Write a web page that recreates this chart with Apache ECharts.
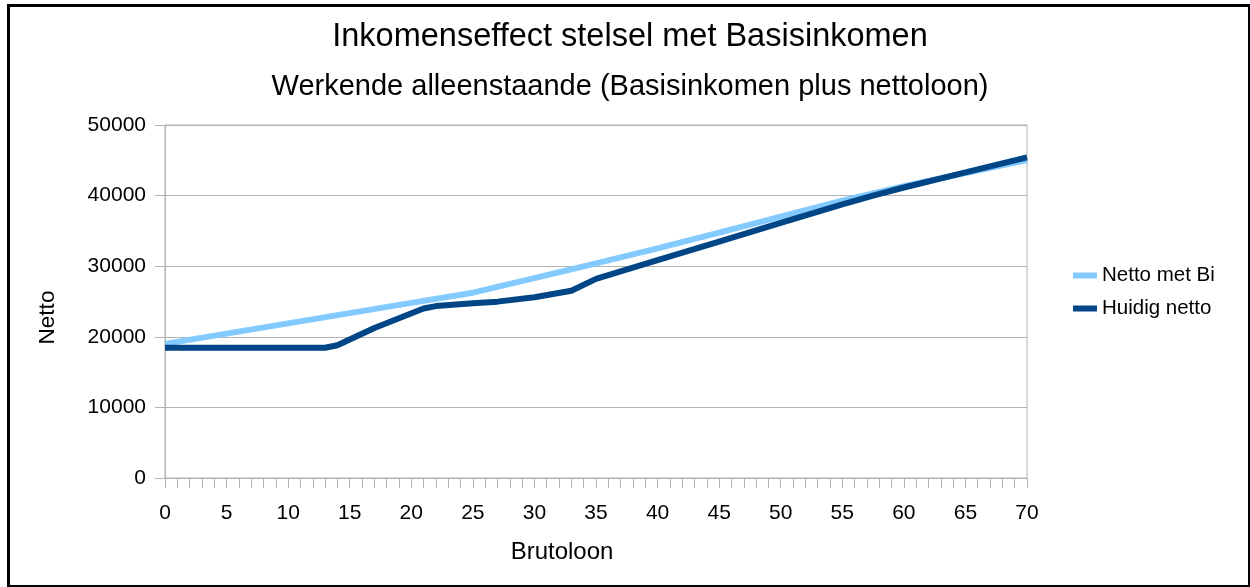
<!DOCTYPE html>
<html>
<head>
<meta charset="utf-8">
<script src="https://cdn.jsdelivr.net/npm/echarts@6/dist/echarts.min.js"></script>
<style>
  html, body { margin: 0; padding: 0; background: #fff; overflow: hidden; width: 1250px; height: 587px; }
  #frame { position: absolute; left: 7px; top: 4px; width: 1244px; height: 584px; border: 3px solid #000; box-sizing: border-box; }
  #chart { position: absolute; left: 0; top: 0; width: 1250px; height: 587px; }
</style>
</head>
<body>
<div id="frame"></div>
<div id="chart"></div>
<script>
// Brutoloon (x) en netto (y) per reeks
const bruto_bi = [0, 5, 10, 15, 20, 25, 30, 35, 40, 45, 50, 55, 60, 65, 70];
const netto_bi = [19000, 20450, 21900, 23350, 24800, 26250, 28300, 30400, 32520, 34760, 37020, 39280, 41330, 43190, 45040];

const bruto_huidig = [0, 13, 14, 17, 19, 21, 22, 25, 27, 30, 33, 35, 40, 45, 50, 55, 57.5, 60, 65, 70];
const netto_huidig = [18450, 18450, 18800, 21250, 22620, 24000, 24350, 24750, 24980, 25600, 26530, 28200, 30850, 33480, 36120, 38750, 40000, 41150, 43280, 45420];

const yTicks = [0, 10000, 20000, 30000, 40000, 50000];

const zip = (xs, ys) => xs.map((x, i) => [x, ys[i]]);

const chart = echarts.init(document.getElementById('chart'));
const font = 'Liberation Sans, Arial, sans-serif';

chart.setOption({
  animation: false,
  textStyle: { fontFamily: font },
  title: [
    { text: 'Inkomenseffect stelsel met Basisinkomen', left: 625, top: 16, textAlign: 'center',
      textStyle: { fontSize: 32.5, fontWeight: 'normal', color: '#000', fontFamily: font } },
    { text: 'Werkende alleenstaande (Basisinkomen plus nettoloon)', left: 625, top: 67, textAlign: 'center',
      textStyle: { fontSize: 29, fontWeight: 'normal', color: '#000', fontFamily: font } }
  ],
  legend: {
    orient: 'vertical', left: 1068, top: 260, itemGap: 12, itemWidth: 24, itemHeight: 6, icon: 'rect',
    textStyle: { fontSize: 20.5, color: '#000', fontFamily: font },
    data: ['Netto met Bi', 'Huidig netto']
  },
  grid: { left: 165, right: 223, top: 125, bottom: 109, show: true, borderColor: '#b3b3b3', borderWidth: 1 },
  xAxis: {
    type: 'value', min: 0, max: 70, interval: 5,
    name: 'Brutoloon', nameLocation: 'middle', nameGap: 62,
    nameTextStyle: { fontSize: 24, color: '#000', padding: [0, 68, 0, 0] },
    axisLine: { show: true, lineStyle: { color: '#b3b3b3' } },
    axisTick: { show: true, length: 10, lineStyle: { color: '#b3b3b3' } },
    minorTick: { show: true, splitNumber: 5, length: 10, lineStyle: { color: '#b3b3b3' } },
    axisLabel: { fontSize: 21, color: '#000', margin: 25 },
    splitLine: { show: false }
  },
  yAxis: {
    type: 'value', min: yTicks[0], max: yTicks[yTicks.length - 1], interval: 10000,
    name: 'Netto', nameLocation: 'middle', nameGap: 106, nameRotate: 90,
    nameTextStyle: { fontSize: 22.5, color: '#000', padding: [0, 32, 0, 0] },
    axisLine: { show: true, lineStyle: { color: '#b3b3b3' } },
    axisTick: { show: true, length: 10, lineStyle: { color: '#b3b3b3' } },
    axisLabel: { fontSize: 21, color: '#000', margin: 19, formatter: v => String(v) },
    splitLine: { show: true, lineStyle: { color: '#b3b3b3' } }
  },
  series: [
    { name: 'Netto met Bi', type: 'line', data: zip(bruto_bi, netto_bi), showSymbol: false,
      itemStyle: { color: '#83caff' }, lineStyle: { color: '#83caff', width: 6 } },
    { name: 'Huidig netto', type: 'line', data: zip(bruto_huidig, netto_huidig), showSymbol: false,
      itemStyle: { color: '#004586' }, lineStyle: { color: '#004586', width: 6 } }
  ]
});
</script>
</body>
</html>
